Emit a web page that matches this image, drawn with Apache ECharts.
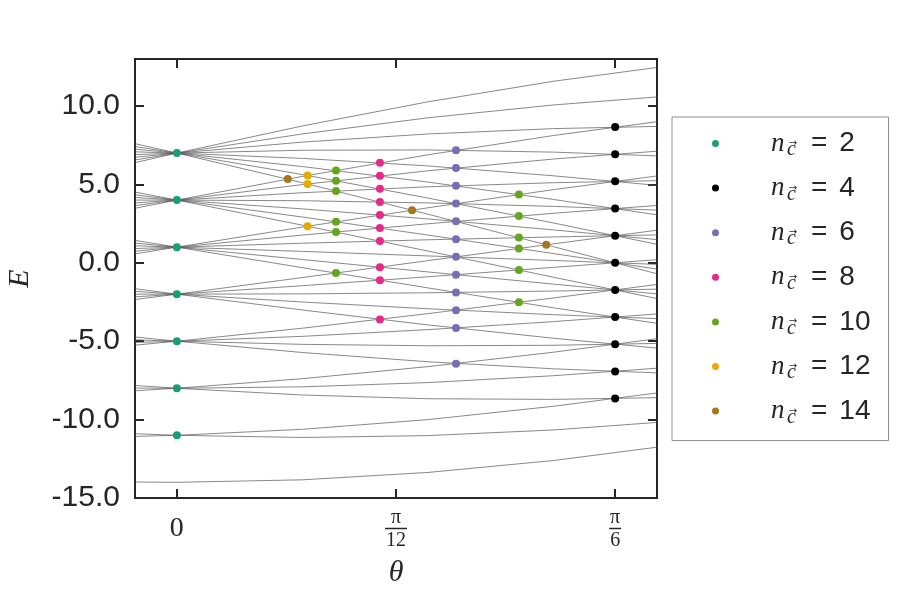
<!DOCTYPE html>
<html>
<head>
<meta charset="utf-8">
<script src="https://cdn.jsdelivr.net/npm/echarts@6/dist/echarts.min.js"></script>
<style>
  html, body { margin: 0; padding: 0; background: #fff; }
  #chart { width: 900px; height: 600px; }
</style>
</head>
<body>
<div id="chart"></div>
<script>
// theta samples shared by every level (rad)
const THETA = [-0.05, 0, 0.15, 0.3, 0.45, 0.5736];

// energy levels, grouped by their value at theta = 0
const fan7 = [
  [6.39, 7, 8.73, 10.27, 11.58, 12.46],
  [6.56, 7, 8.22, 9.25, 10.07, 10.58],
  [6.73, 7, 7.70, 8.22, 8.56, 8.70],
  [6.90, 7, 7.18, 7.20, 7.06, 6.82],
  [7.08, 7, 6.66, 6.18, 5.55, 4.94],
  [7.25, 7, 6.14, 5.15, 4.04, 3.06],
  [7.42, 7, 5.63, 4.13, 2.54, 1.18],
  [7.60, 7, 5.11, 3.10, 1.03, -0.70]
];
const fan4 = [
  [3.48, 4, 5.51, 6.89, 8.12, 9.00],
  [3.65, 4, 4.99, 5.87, 6.62, 7.12],
  [3.82, 4, 4.47, 4.85, 5.11, 5.24],
  [4.00, 4, 3.96, 3.82, 3.60, 3.36],
  [4.17, 4, 3.44, 2.80, 2.10, 1.48],
  [4.34, 4, 2.92, 1.77, 0.59, -0.40],
  [4.51, 4, 2.40, 0.75, -0.92, -2.28]
];
const fan1 = [
  [0.57, 1, 2.28, 3.51, 4.67, 5.54],
  [0.74, 1, 1.77, 2.49, 3.16, 3.66],
  [0.91, 1, 1.25, 1.47, 1.65, 1.78],
  [1.09, 1, 0.73, 0.44, 0.15, -0.10],
  [1.26, 1, 0.21, -0.58, -1.36, -1.98],
  [1.43, 1, -0.31, -1.60, -2.87, -3.86]
];
const fanM2 = [
  [-2.34, -2, -0.94, 0.14, 1.21, 2.08],
  [-2.17, -2, -1.46, -0.89, -0.29, 0.20],
  [-2.00, -2, -1.98, -1.91, -1.80, -1.68],
  [-1.82, -2, -2.50, -2.93, -3.31, -3.56],
  [-1.65, -2, -3.01, -3.96, -4.81, -5.44]
];
const fanM5 = [
  [-5.25, -5, -4.17, -3.24, -2.24, -1.38],
  [-5.08, -5, -4.69, -4.26, -3.75, -3.26],
  [-4.91, -5, -5.20, -5.29, -5.26, -5.14],
  [-4.73, -5, -5.72, -6.31, -6.76, -7.02]
];
const fanM8 = [
  [-8.16, -8, -7.39, -6.62, -5.70, -4.84],
  [-7.99, -8, -7.91, -7.64, -7.20, -6.72],
  [-7.82, -8, -8.43, -8.67, -8.71, -8.60]
];
const fanM11 = [
  [-11.07, -11, -10.62, -10.00, -9.15, -8.30],
  [-10.90, -11, -11.14, -11.02, -10.66, -10.18]
];
const fanM14 = [
  [-13.98, -14, -13.84, -13.37, -12.61, -11.76]
];

// crossing points [theta, E], one list per n_c
const dots2 = [[0, 7], [0, 4], [0, 1], [0, -2], [0, -5], [0, -8], [0, -11]];
const dots4 = [[0.5236, 8.66], [0.5236, 6.93], [0.5236, 5.20], [0.5236, 3.46], [0.5236, 1.73],
  [0.5236, 0], [0.5236, -1.73], [0.5236, -3.46], [0.5236, -5.20], [0.5236, -6.93], [0.5236, -8.66]];
const dots6 = [[0.3335, 7.18], [0.3335, 6.05], [0.3335, 4.91], [0.3335, 3.78], [0.3335, 2.65],
  [0.3335, 1.51], [0.3335, 0.38], [0.3335, -0.76], [0.3335, -1.89], [0.3335, -3.02],
  [0.3335, -4.16], [0.3335, -6.43]];
const dots8 = [[0.2426, 6.38], [0.2426, 5.55], [0.2426, 4.72], [0.2426, 3.88], [0.2426, 3.05],
  [0.2426, 2.22], [0.2426, 1.39], [0.2426, -0.28], [0.2426, -1.11], [0.2426, -3.61]];
const dots10 = [[0.1901, 5.89], [0.1901, 5.24], [0.1901, 4.58], [0.1901, 2.62], [0.1901, 1.96],
  [0.1901, -0.65], [0.4086, 4.36], [0.4086, 2.98], [0.4086, 1.61], [0.4086, 0.92],
  [0.4086, -0.46], [0.4086, -2.52]];
const dots12 = [[0.1562, 5.57], [0.1562, 5.03], [0.1562, 2.34]];
const dots14 = [[0.1325, 5.34], [0.2810, 3.36], [0.4413, 1.15]];

const NC = [2, 4, 6, 8, 10, 12, 14];
const NC_COLORS = ["#1b9e77", "#000000", "#7570b3", "#e7298a", "#66a61e", "#e6ab02", "#a6761d"];
const NC_DOTS = [dots2, dots4, dots6, dots8, dots10, dots12, dots14];

const X_TICKS = [0, Math.PI / 12, Math.PI / 6];
const Y_TICKS = [-15, -10, -5, 0, 5, 10];

const INK = "#262626";
const SANS = "'Liberation Sans', Arial, sans-serif";
const SERIF = "'Liberation Serif', 'DejaVu Serif', serif";

function xLabel(v){
  if (Math.abs(v) < 1e-9) return "{z|0}";
  if (Math.abs(v - Math.PI / 12) < 1e-6) return "{p|π}\n{bar12|}\n{d|12}";
  return "{p|π}\n{bar6|}\n{d|6}";
}

function build(){
  const chart = echarts.init(document.getElementById("chart"), null, { renderer: "canvas" });

  const levels = [...fan7, ...fan4, ...fan1, ...fanM2, ...fanM5, ...fanM8, ...fanM11, ...fanM14];
  const lineSeries = levels.map((ys, i) => ({
    name: "level" + i,
    type: "line",
    data: ys.map((e, k) => [THETA[k], e]),
    symbol: "none",
    silent: true,
    lineStyle: { color: "#555555", width: 0.7 },
    z: 2
  }));

  const dotSeries = NC.map((n, i) => ({
    name: "n=" + n,
    type: "scatter",
    data: NC_DOTS[i],
    symbol: "circle",
    symbolSize: 8,
    itemStyle: { color: NC_COLORS[i], opacity: 1 },
    z: 5
  }));

  const xMin = -0.05, xMax = Math.PI / 6 + 0.05;
  const tickStyle = { color: INK, width: 2 };
  const rowH = 34;

  const option = {
    animation: false,
    grid: {
      left: 135, right: 243, top: 59, bottom: 102,
      containLabel: false, outerBoundsMode: "none",
      show: true, borderColor: INK, borderWidth: 2
    },
    legend: {
      orient: "vertical",
      left: 672, top: 117,
      data: NC.map(n => "n=" + n),
      icon: "circle",
      itemWidth: 7, itemHeight: 7,
      itemGap: 11.6,
      padding: [10, 18, 13, 40],
      borderColor: "#8c8c8c", borderWidth: 1,
      formatter: name => `{sp|}{n|n}{c|c}{ar|→}{eq|=}{v|${name.split("=")[1]}}`,
      textStyle: {
        color: INK,
        rich: {
          sp: { width: 47, lineHeight: rowH },
          n: { width: 16, fontFamily: SERIF, fontStyle: "italic", fontSize: 27, lineHeight: rowH, color: INK },
          c: { width: 6, fontFamily: SERIF, fontStyle: "italic", fontSize: 20, lineHeight: rowH, color: INK, padding: [13, 0, 0, 0] },
          ar: { width: 0, align: "center", fontFamily: "'DejaVu Sans', sans-serif", fontSize: 10, lineHeight: rowH, color: INK },
          eq: { fontFamily: SANS, fontSize: 28, lineHeight: rowH, color: INK, padding: [0, 0, 0, 18] },
          v: { fontFamily: SANS, fontSize: 28, lineHeight: rowH, color: INK, padding: [0, 0, 0, 12] }
        }
      }
    },
    xAxis: [
      {
        type: "value", min: xMin, max: xMax, position: "bottom",
        axisLine: { show: false, onZero: false },
        splitLine: { show: false },
        axisTick: { show: true, inside: true, length: 9, customValues: X_TICKS, lineStyle: tickStyle },
        axisLabel: {
          customValues: X_TICKS, margin: 12, color: INK, formatter: xLabel,
          rich: {
            z: { fontFamily: SERIF, fontSize: 28, lineHeight: 38, color: INK },
            p: { fontFamily: SERIF, fontSize: 20, lineHeight: 16, color: INK },
            bar12: { width: 22, height: 1.5, lineHeight: 5, backgroundColor: INK },
            bar6: { width: 12, height: 1.5, lineHeight: 5, backgroundColor: INK },
            d: { fontFamily: SERIF, fontSize: 20, lineHeight: 19, color: INK }
          }
        },
        name: "θ", nameLocation: "middle", nameGap: 60,
        nameTextStyle: { fontFamily: SERIF, fontStyle: "italic", fontSize: 30, color: INK }
      },
      {
        type: "value", min: xMin, max: xMax, position: "top",
        axisLine: { show: false, onZero: false }, splitLine: { show: false }, axisLabel: { show: false },
        axisTick: { show: true, inside: true, length: 9, customValues: X_TICKS, lineStyle: tickStyle }
      }
    ],
    yAxis: [
      {
        type: "value", min: -15, max: 13, position: "left",
        axisLine: { show: false, onZero: false }, splitLine: { show: false },
        axisTick: { show: true, inside: true, length: 9, customValues: Y_TICKS, lineStyle: tickStyle },
        axisLabel: {
          customValues: Y_TICKS, margin: 15, color: INK,
          fontFamily: SANS, fontSize: 30,
          formatter: v => v.toFixed(1)
        },
        name: "E", nameLocation: "middle", nameGap: 100,
        nameTextStyle: { fontFamily: SERIF, fontStyle: "italic", fontSize: 30, color: INK }
      },
      {
        type: "value", min: -15, max: 13, position: "right",
        axisLine: { show: false, onZero: false }, splitLine: { show: false }, axisLabel: { show: false },
        axisTick: { show: true, inside: true, length: 9, customValues: Y_TICKS, lineStyle: tickStyle }
      }
    ],
    series: [...lineSeries, ...dotSeries]
  };

  chart.setOption(option);
}

document.addEventListener("DOMContentLoaded", build);
</script>
</body>
</html>
